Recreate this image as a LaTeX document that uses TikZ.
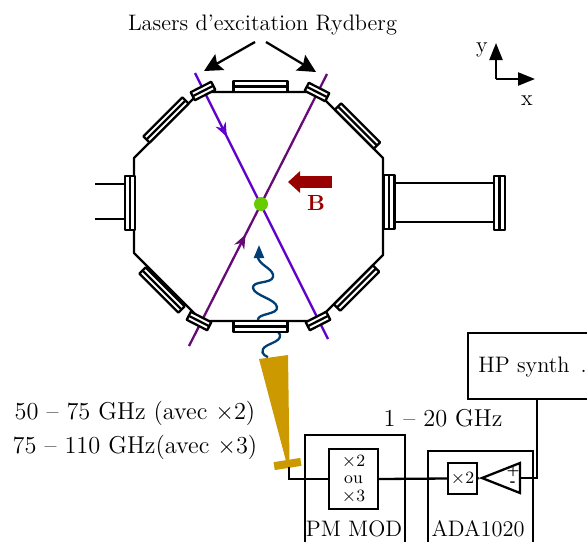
\documentclass[tikz,border=0pt]{standalone}
\usepackage{amsmath,amssymb,amsfonts}
\usetikzlibrary{arrows.meta, decorations.markings, shapes.geometric}
\definecolor{beamviolet}{HTML}{6000CC}
\definecolor{beampurple}{HTML}{660A78}
\definecolor{wavebleu}{HTML}{003F75}
\definecolor{hornor}{HTML}{CC9900}
\definecolor{champrouge}{HTML}{990000}
\definecolor{atomvert}{HTML}{66CC00}
\tikzset{
  wall/.style={line width=1.15pt, line join=round},
  flangebox/.style={wall, fill=white},
  blockbox/.style={draw, line width=1.15pt, inner sep=0pt},
  link/.style={line width=1.15pt},
  bigarrow/.style={line width=1.15pt, -{Stealth[length=9pt,width=9pt,inset=1.5pt]}},
  axisarrow/.style={line width=1.15pt, -{Triangle[length=8.5pt,width=6.5pt]}},
  label/.style={font=\fontsize{11.2}{13}\selectfont, inner sep=0pt},
  biglabel/.style={font=\fontsize{12.2}{14}\selectfont, inner sep=0pt},
  smalllabel/.style={font=\fontsize{8.6}{8.8}\selectfont},
  beam/.style={line width=1.15pt, postaction={decorate}},
  beamtip/.style={decoration={markings, mark=at position #1 with {\arrow{Stealth[length=7pt,width=5.5pt]}}}},
}
\begin{document}
\begin{tikzpicture}[x=0.5pt, y=-0.5pt]
\useasboundingbox (0,0) rectangle (587,541);
\clip (0,0) rectangle (587,541);
% enceinte
\draw[wall] (134,158) -- (200,92) -- (317,92) -- (383,158) -- (383,255) -- (317,321) -- (202,321) -- (134,253) -- cycle;
% faisceaux
\draw[beam, color=beamviolet, beamtip=0.24] (195,73) -- (328,339);
\draw[beam, color=beampurple, beamtip=0.41] (189,346) -- (327,74);
% micro-onde
\draw[line width=1.15pt, color=wavebleu, -{Triangle[length=6.5pt,width=5pt]}] plot[smooth, tension=0.9] coordinates {(268,357) (263,349) (280,335) (258,320) (277,307) (253,288) (273,277) (259,260) (259,252) (259,245)};
% brides
\foreach \cx/\cy/\ang/\len/\wid in {
  260.5/86.5/0/54/11, 260.5/326.5/0/54/11,
  130/203/90/54/10, 389/202/90/54/11, 499.5/203/90/54/11,
  166/120/45/55/9, 357.5/126/-45/55/9, 162/290/-45/55/9, 356.5/288/45/55/9,
  203/91/27/23/9, 317/92/-27/23/9, 199/321/-27/23/9, 318/321/27/23/9} {
\begin{scope}[shift={(\cx,\cy)}, rotate=\ang]
\draw[flangebox] (-\len/2,-\wid/2) rectangle (\len/2,\wid/2);
\draw[wall] (-\len/2,0) -- (\len/2,0);
\end{scope}
}
% tubes
\draw[wall] (395,183) -- (494,183);
\draw[wall] (395,222) -- (494,222);
\draw[wall] (95,184) -- (125,184);
\draw[wall] (95,219) -- (125,219);
% atomes et champ
\fill[atomvert] (261,204) circle (7);
\draw[champrouge, line width=6pt, -{Triangle[length=6pt,width=10.5pt]}] (332,182) -- (288,182);
\node[label, color=champrouge] (champ) at (316,203) {$\mathbf{B}$};
% lasers
\node[label] (lasers) at (262.5,25) {Lasers d'excitation Rydberg};
\coordinate (laserg) at (204,71);
\coordinate (laserd) at (316,72);
\draw[bigarrow] (255,42) -- (laserg);
\draw[bigarrow] (266,42) -- (laserd);
% axes
\coordinate (origine) at (496,79);
\draw[axisarrow] (origine) -- (496,43);
\draw[axisarrow] (origine) -- (535,79);
\node[label] (axex) at (527,101) {x};
\node[label] (axey) at (482,50) {y};
% cornet
\fill[hornor] (259,359) -- (288,355) -- (289.5,461) -- (286,461) -- cycle;
\fill[hornor, rotate around={9:(287.5,464)}] (274,460) rectangle (301,468);
\coordinate (cornet) at (289,467);
% electronique
\node[biglabel] (freqa) at (135,413) {50 -- 75 GHz (avec $\times$2)};
\node[biglabel] (freqb) at (135,447) {75 -- 110 GHz(avec $\times$3)};
\node[biglabel] (freqc) at (443,418) {1 -- 20 GHz};
\node[blockbox, anchor=north west, minimum width=50pt, minimum height=80pt] (pmbox) at (304,434) {};
\node[blockbox, anchor=north west, minimum width=52.5pt, minimum height=80pt] (adabox) at (427,450) {};
\node[blockbox, fill=white, minimum width=24.5pt, minimum height=30pt, align=center, smalllabel] (mult) at (353.5,479) {$\times$2\\ou\\$\times$3};
\node[blockbox, fill=white, minimum width=14.5pt, minimum height=15.5pt, smalllabel] (doubleur) at (462.5,478.5) {$\times$2};
\node[draw, line width=1.15pt, isosceles triangle, isosceles triangle stretches, shape border rotate=180, inner sep=0pt, minimum width=15pt, minimum height=19pt, anchor=apex] (ampli) at (479,478) {};
\node[inner sep=0pt, font=\fontsize{6.5}{8}\selectfont\bfseries] (plus) at (513,471) {+};
\node[inner sep=0pt, font=\fontsize{6.5}{8}\selectfont\bfseries] (moins) at (513,484) {-};
\node[label] (pmlabel) at (354,529) {PM MOD};
\node[label] (adalabel) at (478,529) {ADA1020};
\node[blockbox, anchor=north west, minimum width=100pt, minimum height=33pt] (hpbox) at (467,332) {};
\node[label, anchor=west] (hplabel) at (478,367) {HP synth\,\ .};
\coordinate (hpsortie) at (537,398);
\draw[link] (cornet) |- (mult.west);
\draw[link] (mult.east) -- (doubleur.west);
\draw[link] (doubleur.east) -- (ampli.apex);
\draw[link] (hpsortie) |- (ampli.east);
\end{tikzpicture}
\end{document}
